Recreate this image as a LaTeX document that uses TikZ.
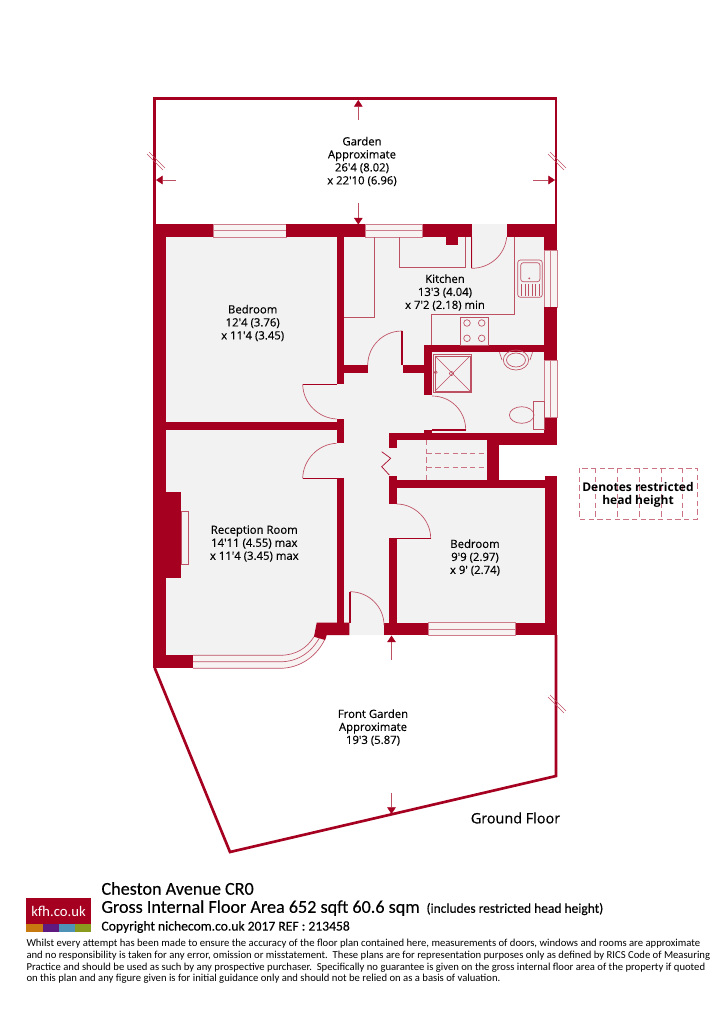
\documentclass[tikz,border=0pt]{standalone}
\usepackage{fontspec}
\usetikzlibrary{arrows.meta}
\setmainfont{Open Sans}
\newfontfamily\roomfont{Open Sans}[FakeBold=0.35]
\newfontfamily\finefont{Carlito}
\newfontfamily\headfont{Carlito}[FakeBold=0.25]
\definecolor{wallred}{RGB}{166,0,33}
\definecolor{thinred}{RGB}{190,80,100}
\definecolor{floorgrey}{RGB}{243,242,242}
\definecolor{glazing}{RGB}{248,243,243}
\definecolor{logoorange}{RGB}{200,121,15}
\definecolor{logopurple}{RGB}{94,26,127}
\definecolor{logoblue}{RGB}{79,146,184}
\definecolor{logoolive}{RGB}{138,154,30}
\tikzset{every picture/.style={line width=0.75pt}}
\tikzset{
  wall/.style={fill=wallred,draw=none},
  thin/.style={draw=thinred,line width=0.5pt},
  boundary/.style={draw=wallred,line width=2pt,line join=miter},
  glass/.style={fill=glazing,draw=thinred!75,line width=0.5pt},
  dimline/.style={draw=thinred,line width=0.4pt,-{Triangle[length=5pt,width=6.5pt,fill=wallred,color=wallred]}},
  breakline/.style={draw=thinred,line width=0.5pt},
  dashline/.style={draw=thinred!80,line width=0.5pt,dash pattern=on 4pt off 2.5pt},
  roomtext/.style={align=center,text=black,font=\roomfont\fontsize{8.5}{9.75}\selectfont},
}

\begin{document}
\begin{tikzpicture}[x=0.75pt,y=0.75pt,yscale=-1,xscale=1]
\useasboundingbox (0,0) rectangle (715,1033);

%Shape: Floor
\fill [floorgrey] (155,224) -- (557,224) -- (557,445) -- (499,445) -- (499,480) -- (557,480) -- (557,635) -- (326,635) -- (314,637) .. controls (304,652) and (296,668) .. (280,668) -- (155,668) -- cycle ;
%Shape: Bay
\fill [glazing] (193,655.3) -- (280,655.3) .. controls (296,655.3) and (307,648) .. (314,636.7) -- (326,636.7) .. controls (318,656) and (300,668.3) .. (280,668.3) -- (193,668.3) -- cycle ;
\draw [thin] (193,655.3) -- (280,655.3) .. controls (296,655.3) and (307,648) .. (314,636.7) ;
\draw [thin] (193,661.8) -- (280,661.8) .. controls (298,661.8) and (312,652) .. (320,636.7) ;
\draw [thin] (193,668.3) -- (280,668.3) .. controls (300,668.3) and (318,656) .. (326,636.7) ;

%Shape: Windows
\draw [glass] (213.3,224.5) rectangle (286,237.3) ;
\draw [glass] (213.3,230.5) -- (286,230.5) ;
\draw [glass] (365.3,224.5) rectangle (422.7,237.3) ;
\draw [glass] (365.3,230.5) -- (422.7,230.5) ;
\draw [glass] (428.3,622.7) rectangle (515.7,635) ;
\draw [glass] (428.3,629) -- (515.7,629) ;
\draw [glass] (544.3,250) rectangle (557,307.3) ;
\draw [glass] (550.5,250) -- (550.5,307.3) ;
\draw [glass] (544.3,360) rectangle (557,417.7) ;
\draw [glass] (550.5,360) -- (550.5,417.7) ;

%Garden boundaries
\draw [boundary] (154.7,224) -- (154.7,98.7) -- (556,98.7) -- (556,224) ;
\draw [boundary] (154.7,668) -- (230,852) -- (556,776) -- (556,635) ;

%Shape: Outer walls
\fill [wall] (153.3,224.3) rectangle (213.3,237.3) ;
\fill [wall] (286,224.3) rectangle (365.3,237.3) ;
\fill [wall] (422.7,224.3) rectangle (471.7,237.3) ;
\fill [wall] (445.7,237) rectangle (458.3,245) ;
\fill [wall] (506.7,224.3) rectangle (557,237.3) ;
\fill [wall] (544.3,224.3) rectangle (557,250) ;
\fill [wall] (544.3,307.3) rectangle (557,360) ;
\fill [wall] (544.3,417.7) rectangle (557,445) ;
\fill [wall] (153.3,224.3) rectangle (166,668.3) ;
\fill [wall] (153.3,655) rectangle (193.3,668.3) ;
\fill [wall] (166,492.3) rectangle (181.3,577.7) ;
\fill [wall] (316.7,622.7) -- (349.3,622.7) -- (349.3,635) -- (326.7,635) -- (325,640) -- (314,636.7) -- cycle ;
\fill [wall] (384,622.7) rectangle (428.3,635) ;
\fill [wall] (515.7,622.7) rectangle (557,635) ;
\fill [wall] (545,475.7) rectangle (557.3,635) ;

%Shape: Inner walls
\fill [wall] (336.5,237) rectangle (344,384) ;
\fill [wall] (336.5,419) rectangle (344,443.3) ;
\fill [wall] (166,422.3) rectangle (336.5,430) ;
\fill [wall] (336.5,478.3) rectangle (344,623) ;
\fill [wall] (344,365) rectangle (367.7,372.7) ;
\fill [wall] (402.7,365) rectangle (424,372.7) ;
\fill [wall] (424,345) rectangle (544.7,352.3) ;
\fill [wall] (424,345) rectangle (432.3,395) ;
\fill [wall] (389.3,432.7) rectangle (557,440) ;
\fill [wall] (389.3,432.7) rectangle (396.7,447.7) ;
\fill [wall] (424,430) rectangle (432,433) ;
\fill [wall] (486.7,432.7) rectangle (499.3,480) ;
\fill [wall] (499.3,432.7) rectangle (557,445) ;
\fill [wall] (389.3,480) rectangle (557,487.7) ;
\fill [wall] (389.3,476) rectangle (396.7,504) ;
\fill [wall] (389.3,538.3) rectangle (396.7,623) ;

%Doors
\draw [thin] (402,365) -- (402,331) .. controls (383,331) and (368,346) .. (367.7,365) ;
\draw [draw=wallred,line width=0.8pt] (402,331) -- (402,365) ;
\draw [thin] (471.7,237) -- (471.7,268.3) .. controls (490,268.3) and (505,255) .. (506.7,237) ;
\draw [draw=wallred,line width=0.8pt] (471.7,237) -- (471.7,268.3) ;
\draw [thin] (302.7,384.3) .. controls (303,403) and (318,418) .. (336.5,419) ;
\draw [draw=wallred,line width=0.8pt] (302.7,384.3) -- (336.5,384.3) ;
\draw [thin] (302.7,478.3) .. controls (303,460) and (318,444) .. (336.5,443.3) ;
\draw [draw=wallred,line width=0.8pt] (302.7,478.3) -- (336.5,478.3) ;
\draw [thin] (432,396) .. controls (451,396) and (465.7,411) .. (465.7,430) ;
\draw [draw=wallred,line width=0.8pt] (432,430) -- (465.7,430) ;
\draw [thin] (396.7,504) .. controls (415,504) and (430.7,520) .. (430.7,538.3) ;
\draw [draw=wallred,line width=0.8pt] (396.7,538.3) -- (430.7,538.3) ;
\draw [thin] (350,591.7) .. controls (369,591.7) and (384,607) .. (384,625) ;
\draw [draw=wallred,line width=0.8pt] (350,591.7) -- (350,623) ;
%Cupboard door
\draw [draw=wallred,line width=0.5pt] (381.7,451.7) -- (390.7,458.3) -- (381.7,466.7) -- (389.3,475) ;

%Stairs
\draw [dashline,line width=0.4pt] (426.7,440) -- (426.7,480) ;
\draw [dashline,line width=0.4pt] (426.7,453.3) -- (486.7,453.3) ;
\draw [dashline,line width=0.4pt] (426.7,467.3) -- (486.7,467.3) ;

%Fireplace
\draw [thin] (181.3,511) rectangle (188.7,564.3) ;

%Kitchen units
\draw [thin] (374.3,237) -- (374.3,317.3) -- (344,317.3) ;
\draw [thin] (399.3,237) -- (399.3,267.3) -- (465,267.3) -- (465,237) ;
\draw [thin] (514.7,237) -- (514.7,314.3) -- (431.7,314.3) -- (431.7,345) ;
\draw [thin] (460.7,317.3) rectangle (488.3,345) ;
\draw [thin] (467,323) circle (3.3) ;
\draw [thin] (481.7,323) circle (3.3) ;
\draw [thin] (467,338.3) circle (3.3) ;
\draw [thin] (481.7,338.3) circle (3.3) ;
%Sink
\draw [thin,rounded corners=2pt] (517.7,260) rectangle (542.3,297.3) ;
\draw [thin,rounded corners=2pt] (520.7,262.7) rectangle (540,281.7) ;
\fill [thinred] (529.3,278.3) circle (1) ;
\foreach \xd in {521.5,525,528.5,532,535.5,539}
  \draw [thin] (\xd,284) -- (\xd,296) ;

%Bathroom
\draw [thin] (433.3,354.3) rectangle (471.7,392.7) ;
\draw [thin] (435,356) rectangle (470,391) ;
\draw [thin] (435,356) -- (470,391) ;
\draw [thin] (470,356) -- (435,391) ;
\draw [thin] (451.5,373.5) circle (2) ;
\draw [thin] (435.7,372.3) circle (1.5) ;
\draw [thin] (499.5,352.3) -- (502,360) ;
\draw [thin] (532.5,352.3) -- (530,360) ;
\draw [thin] (516,360) ellipse (12.7 and 10) ;
\draw [thin] (516,360) ellipse (9.5 and 7) ;
\draw [thin] (533.3,401) rectangle (544.7,429.3) ;
\draw [thin] (521.7,415) ellipse (12.3 and 8.3) ;

%Straight Lines: break marks
\draw [breakline] (147,154) -- (163,170) ;
\draw [breakline] (149,152) -- (165,168) ;
\draw [breakline] (548,154) -- (564,170) ;
\draw [breakline] (550,152) -- (566,168) ;
\draw [breakline] (548,697) -- (564,713) ;
\draw [breakline] (550,695) -- (566,711) ;

%Straight Lines: dimension arrows
\draw [dimline] (358.3,120) -- (358.3,100) ;
\draw [dimline] (358.3,203.3) -- (358.3,224.5) ;
\draw [dimline] (176,180) -- (156,180) ;
\draw [dimline] (533.3,180) -- (555,180) ;
\draw [dimline] (391.5,660) -- (391.5,635.5) ;
\draw [dimline] (391.5,793) -- (391.5,814) ;

%Restricted head height key
\draw [dashline] (579,468) rectangle (697,519) ;
\draw [dashline] (595.7,468) -- (595.7,519) ;
\draw [dashline] (617.3,468) -- (617.3,519) ;
\draw [dashline] (639,468) -- (639,519) ;
\draw [dashline] (661,468) -- (661,519) ;
\draw [dashline] (682.3,468) -- (682.3,519) ;

% Text Node
\node [roomtext] (gardenlabel) at (362,161.5) {Garden\\Approximate\\26'4 (8.02)\\x 22'10 (6.96)};
% Text Node
\node [roomtext] (bedroomlabel) at (252.7,323) {Bedroom\\12'4 (3.76)\\x 11'4 (3.45)};
% Text Node
\node [roomtext] (kitchenlabel) at (445,292.5) {Kitchen\\13'3 (4.04)\\x 7'2 (2.18) min};
% Text Node
\node [roomtext] (receptionlabel) at (254.3,543.5) {Reception Room\\14'11 (4.55) max\\x 11'4 (3.45) max};
% Text Node
\node [roomtext] (bedroomtwolabel) at (475,557.5) {Bedroom\\9'9 (2.97)\\x 9' (2.74)};
% Text Node
\node [roomtext] (frontlabel) at (373,727.5) {Front Garden\\Approximate\\19'3 (5.87)};
% Text Node
\node [font=\roomfont\fontsize{10.8}{12}\selectfont] (floorlabel) at (515.5,818) {Ground Floor};
% Text Node
\node [align=center,font=\bfseries\fontsize{9}{9.75}\selectfont] (keylabel) at (638,495) {Denotes restricted\\head height};

%Logo
\fill [wallred] (26,898) rectangle (91,925) ;
\fill [logoorange] (26,924) rectangle (42.5,932) ;
\fill [logopurple] (42.5,924) rectangle (58.5,932) ;
\fill [logoblue] (58.5,924) rectangle (75,932) ;
\fill [logoolive] (75,924) rectangle (91,932) ;
% Text Node
\node [text=white,font=\finefont\fontsize{11}{12}\selectfont] (logolabel) at (58.5,911) {kfh.co.uk};

% Text Node
\node [anchor=west,inner sep=0pt,font=\headfont\fontsize{13.6}{15}\selectfont] (titlelabel) at (101,888.5) {Cheston Avenue CR0};
% Text Node
\node [anchor=west,inner sep=0pt,font=\headfont\fontsize{13.6}{15}\selectfont] (arealabel) at (101,908) {Gross Internal Floor Area 652 sqft 60.6 sqm};
% Text Node
\node [anchor=west,inner sep=0pt,font=\headfont\fontsize{10.1}{11}\selectfont] (includeslabel) at (426,909) {(includes restricted head height)};
% Text Node
\node [anchor=west,inner sep=0pt,font=\headfont\fontsize{10.2}{11}\selectfont] (copylabel) at (101,927) {Copyright nichecom.co.uk 2017 REF : 213458};
% Text Node
\node [anchor=west,inner sep=0pt,font=\finefont\fontsize{8}{9}\selectfont] (fineone) at (26,944) {Whilst every attempt has been made to ensure the accuracy of the floor plan contained here, measurements of doors, windows and rooms are approximate};
% Text Node
\node [anchor=west,inner sep=0pt,font=\finefont\fontsize{8}{9}\selectfont] (finetwo) at (26,955.7) {and no responsibility is taken for any error, omission or misstatement.\ \ These plans are for representation purposes only as defined by RICS Code of Measuring};
% Text Node
\node [anchor=west,inner sep=0pt,font=\finefont\fontsize{8}{9}\selectfont] (finethree) at (26,967.3) {Practice and should be used as such by any prospective purchaser.\ \ Specifically no guarantee is given on the gross internal floor area of the property if quoted};
% Text Node
\node [anchor=west,inner sep=0pt,font=\finefont\fontsize{8}{9}\selectfont] (finefour) at (26,979) {on this plan and any figure given is for initial guidance only and should not be relied on as a basis of valuation.};
\end{tikzpicture}
\end{document}
